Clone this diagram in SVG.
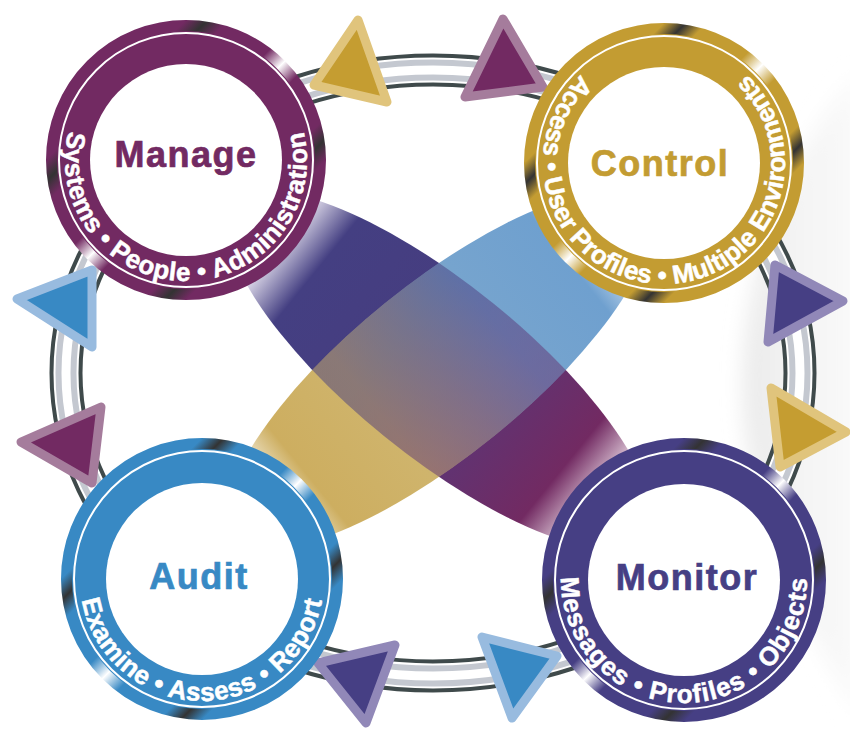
<svg xmlns="http://www.w3.org/2000/svg" width="850" height="730" viewBox="0 0 850 730">
<style>
.title{font-family:"Liberation Sans",Arial,sans-serif;font-weight:bold;font-size:36px;text-anchor:middle;letter-spacing:1.5px;stroke-width:0.7px}
.ring{font-family:"Liberation Sans",Arial,sans-serif;font-weight:bold;font-size:26px;fill:#fff;stroke:#fff;stroke-width:0.5px;letter-spacing:0.5px}
.ring.c{letter-spacing:0}
.ring.m{letter-spacing:1px}
.tri{stroke-width:9;stroke-linejoin:round}
.wline{fill:none;stroke:#fff;stroke-width:2}
</style>
<defs>
<linearGradient id="mPur" x1="0" y1="0" x2="1" y2="1">
<stop offset="0" stop-color="#722a62"/><stop offset="0.06" stop-color="#ffffff"/><stop offset="0.12" stop-color="#722a62"/><stop offset="0.24" stop-color="#722a62"/><stop offset="0.28" stop-color="#333333"/><stop offset="0.32" stop-color="#722a62"/><stop offset="0.45" stop-color="#722a62"/><stop offset="0.5" stop-color="#ffffff"/><stop offset="0.55" stop-color="#722a62"/><stop offset="0.68" stop-color="#722a62"/><stop offset="0.72" stop-color="#333333"/><stop offset="0.76" stop-color="#722a62"/><stop offset="0.88" stop-color="#722a62"/><stop offset="0.94" stop-color="#ffffff"/><stop offset="1" stop-color="#722a62"/>
</linearGradient>
<linearGradient id="mGold" x1="0" y1="0" x2="1" y2="1">
<stop offset="0" stop-color="#c39c32"/><stop offset="0.06" stop-color="#ffffff"/><stop offset="0.12" stop-color="#c39c32"/><stop offset="0.24" stop-color="#c39c32"/><stop offset="0.28" stop-color="#333333"/><stop offset="0.32" stop-color="#c39c32"/><stop offset="0.45" stop-color="#c39c32"/><stop offset="0.5" stop-color="#ffffff"/><stop offset="0.55" stop-color="#c39c32"/><stop offset="0.68" stop-color="#c39c32"/><stop offset="0.72" stop-color="#333333"/><stop offset="0.76" stop-color="#c39c32"/><stop offset="0.88" stop-color="#c39c32"/><stop offset="0.94" stop-color="#ffffff"/><stop offset="1" stop-color="#c39c32"/>
</linearGradient>
<linearGradient id="mBlue" x1="0" y1="0" x2="1" y2="1">
<stop offset="0" stop-color="#3889c4"/><stop offset="0.06" stop-color="#ffffff"/><stop offset="0.12" stop-color="#3889c4"/><stop offset="0.24" stop-color="#3889c4"/><stop offset="0.28" stop-color="#333333"/><stop offset="0.32" stop-color="#3889c4"/><stop offset="0.45" stop-color="#3889c4"/><stop offset="0.5" stop-color="#ffffff"/><stop offset="0.55" stop-color="#3889c4"/><stop offset="0.68" stop-color="#3889c4"/><stop offset="0.72" stop-color="#333333"/><stop offset="0.76" stop-color="#3889c4"/><stop offset="0.88" stop-color="#3889c4"/><stop offset="0.94" stop-color="#ffffff"/><stop offset="1" stop-color="#3889c4"/>
</linearGradient>
<linearGradient id="mInd" x1="0" y1="0" x2="1" y2="1">
<stop offset="0" stop-color="#463f84"/><stop offset="0.06" stop-color="#ffffff"/><stop offset="0.12" stop-color="#463f84"/><stop offset="0.24" stop-color="#463f84"/><stop offset="0.28" stop-color="#333333"/><stop offset="0.32" stop-color="#463f84"/><stop offset="0.45" stop-color="#463f84"/><stop offset="0.5" stop-color="#ffffff"/><stop offset="0.55" stop-color="#463f84"/><stop offset="0.68" stop-color="#463f84"/><stop offset="0.72" stop-color="#333333"/><stop offset="0.76" stop-color="#463f84"/><stop offset="0.88" stop-color="#463f84"/><stop offset="0.94" stop-color="#ffffff"/><stop offset="1" stop-color="#463f84"/>
</linearGradient>
<linearGradient id="gA" gradientUnits="userSpaceOnUse" x1="-263" y1="0" x2="263" y2="0">
<stop offset="0.1" stop-color="#f4f0f8"/><stop offset="0.2" stop-color="#443f82"/><stop offset="0.4" stop-color="#463d80"/><stop offset="0.6" stop-color="#5e3474"/><stop offset="0.8" stop-color="#722a62"/><stop offset="0.9" stop-color="#f0e4ec"/>
</linearGradient>
<linearGradient id="gB" gradientUnits="userSpaceOnUse" x1="-263" y1="0" x2="263" y2="0">
<stop offset="0.08" stop-color="#ffffff"/><stop offset="0.18" stop-color="#cdae60"/><stop offset="0.36" stop-color="#cfb46c"/><stop offset="0.5" stop-color="#a6aa9a"/><stop offset="0.64" stop-color="#76a4ce"/><stop offset="0.82" stop-color="#6fa0cf"/><stop offset="0.92" stop-color="#e6eef7"/>
</linearGradient>
<linearGradient id="gSw" x1="0" y1="0" x2="1" y2="0">
<stop offset="0" stop-color="#e9e9e9"/><stop offset="0.4" stop-color="#f3f3f3"/><stop offset="1" stop-color="#fafafa"/>
</linearGradient>
<filter id="blur" x="-20%" y="-20%" width="140%" height="140%"><feGaussianBlur stdDeviation="10"/></filter>
<clipPath id="clipB"><ellipse cx="0" cy="0" rx="263" ry="86" transform="translate(439,370) rotate(-39)"/></clipPath>
<path id="pM" d="M186,39 A121,121 0 0 0 186,281 A121,121 0 0 0 186,39"/>
<path id="pC" d="M664,42 A121,121 0 0 0 664,284 A121,121 0 0 0 664,42"/>
<path id="pA" d="M202,457 A122,122 0 0 0 202,701 A122,122 0 0 0 202,457"/>
<path id="pMo" d="M684,457 A123,123 0 0 0 684,703 A123,123 0 0 0 684,457"/>
</defs>
<rect width="850" height="730" fill="#ffffff"/>
<path d="M860,70 C770,170 728,320 748,450 C762,550 815,640 860,720 Z" fill="url(#gSw)" filter="url(#blur)"/>

<g id="leaves">
<ellipse cx="0" cy="0" rx="263" ry="86" transform="translate(439,370) rotate(39)" fill="url(#gA)"/>
<ellipse cx="0" cy="0" rx="263" ry="86" transform="translate(439,370) rotate(-39)" fill="url(#gB)"/>
<g clip-path="url(#clipB)">
<ellipse cx="0" cy="0" rx="263" ry="86" transform="translate(439,370) rotate(39)" fill="url(#gA)" opacity="0.5"/>
</g>
</g>

<g id="connectors">
<g fill="none">
<ellipse cx="433" cy="373" rx="367" ry="303" stroke="#3f4a4b" stroke-width="33"/>
<ellipse cx="433" cy="373" rx="367" ry="303" stroke="#ffffff" stroke-width="25"/>
<ellipse cx="433" cy="373" rx="367" ry="303" stroke="#c4c8d0" stroke-width="21"/>
<ellipse cx="433" cy="373" rx="367" ry="303" stroke="#ffffff" stroke-width="9"/>
</g>
<polygon class="tri" points="358,20 314,85 387,102" fill="#c59d31" stroke="#e0c47c"/>
<polygon class="tri" points="503,19 465,97 543,87" fill="#722a62" stroke="#a57c9c"/>
<polygon class="tri" points="775,265 843,301 768,342" fill="#463f84" stroke="#9188b8"/>
<polygon class="tri" points="771,388 846,432 780,467" fill="#c59d31" stroke="#e0c47c"/>
<polygon class="tri" points="92,270 17,299 92,347" fill="#3889c4" stroke="#98bbdf"/>
<polygon class="tri" points="101,407 21,442 92,483" fill="#722a62" stroke="#a57c9c"/>
<polygon class="tri" points="318,663 395,645 366,723" fill="#463f84" stroke="#9188b8"/>
<polygon class="tri" points="482,637 557,656 512,718" fill="#3889c4" stroke="#98bbdf"/>
</g>

<g id="manage">
<circle cx="186" cy="160" r="134.5" fill="#722a62" stroke="url(#mPur)" stroke-width="11"/>
<circle class="wline" cx="186" cy="160" r="127"/>
<circle cx="186" cy="160" r="96" fill="#fff"/>
<text class="title" x="186" y="167" fill="#722a62" stroke="#722a62">Manage</text>
<text class="ring"><textPath href="#pM" startOffset="50%" text-anchor="middle">Systems • People • Administration</textPath></text>
</g>

<g id="control">
<circle cx="664" cy="163" r="134.5" fill="#c39c32" stroke="url(#mGold)" stroke-width="11"/>
<circle class="wline" cx="664" cy="163" r="127"/>
<circle cx="664" cy="163" r="96" fill="#fff"/>
<text class="title" x="660" y="176" fill="#c39c32" stroke="#c39c32">Control</text>
<text class="ring c"><textPath href="#pC" startOffset="50%" text-anchor="middle">Access • User Profiles • Multiple Environments</textPath></text>
</g>

<g id="audit">
<circle cx="202" cy="579" r="135.5" fill="#3889c4" stroke="url(#mBlue)" stroke-width="11"/>
<circle class="wline" cx="202" cy="579" r="128"/>
<circle cx="202" cy="579" r="96" fill="#fff"/>
<text class="title" x="199" y="589" fill="#3889c4" stroke="#3889c4">Audit</text>
<text class="ring"><textPath href="#pA" startOffset="50%" text-anchor="middle">Examine • Assess • Report</textPath></text>
</g>

<g id="monitor">
<circle cx="684" cy="580" r="136.5" fill="#463f84" stroke="url(#mInd)" stroke-width="11"/>
<circle class="wline" cx="684" cy="580" r="129"/>
<circle cx="684" cy="580" r="96" fill="#fff"/>
<text class="title" x="687" y="590" fill="#463f84" stroke="#463f84">Monitor</text>
<text class="ring m"><textPath href="#pMo" startOffset="50%" text-anchor="middle">Messages • Profiles • Objects</textPath></text>
</g>
</svg>
